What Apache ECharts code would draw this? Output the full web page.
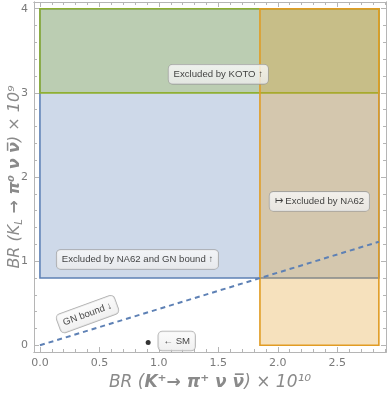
<!DOCTYPE html>
<html>
<head>
<meta charset="utf-8">
<script src="https://cdn.jsdelivr.net/npm/echarts@6/dist/echarts.min.js"></script>
<style>
  html, body { margin: 0; padding: 0; background: #fff; }
  #main { width: 388px; height: 393px; }
</style>
</head>
<body>
<div id="main"></div>
<script>
// axis ticks
var xTicks = [0, 0.5, 1, 1.5, 2, 2.5];
var xMinor = [0.1, 0.2, 0.3, 0.4, 0.6, 0.7, 0.8, 0.9, 1.1, 1.2, 1.3, 1.4, 1.6, 1.7, 1.8, 1.9, 2.1, 2.2, 2.3, 2.4, 2.6, 2.7, 2.8, 2.9];
var yTicks = [0, 1, 2, 3, 4];
var yMinor = [0.2, 0.4, 0.6, 0.8, 1.2, 1.4, 1.6, 1.8, 2.2, 2.4, 2.6, 2.8, 3.2, 3.4, 3.6, 3.8];

// excluded regions: [x0, y0, x1, y1]
var boxNames = ['NA62 and GN bound', 'KOTO', 'NA62'];
var boxCorners = [
  [0, 0.8, 2.85, 4],
  [0, 3, 2.85, 4],
  [1.85, 0, 2.85, 4]
];
var boxColors = ['#5E81B5', '#8FB032', '#E19C24'];

// Grossman-Nir bound line
var gnLine = [[0, 0], [2.85, 1.23]];
// Standard Model point
var smPoint = [[0.91, 0.034]];

// annotation labels
var labelTexts = ['Excluded by KOTO ↑', 'Excluded by NA62 and GN bound ↑', '↦ Excluded by NA62', 'GN bound ↓', '← SM'];
var labelPos = [[1.5, 3.22], [0.82, 1.02], [2.35, 1.71], [0.4, 0.37], [1.15, 0.05]];
var labelRotate = [0, 0, 0, 20, 0];

var axisGray = '#b5b5b5';
var labelGray = '#7a7a7a';

var myChart = echarts.init(document.getElementById('main'));

var series = [];
for (var i = 0; i < boxCorners.length; i++) {
  var b = boxCorners[i];
  series.push({
    name: boxNames[i],
    type: 'line',
    data: [],
    silent: true,
    z: 2 + i,
    markArea: {
      silent: true,
      itemStyle: {
        color: echarts.color.modifyAlpha(boxColors[i], 0.3),
        borderColor: boxColors[i],
        borderWidth: 1.6
      },
      label: { show: false },
      data: [[{ coord: [b[0], b[1]] }, { coord: [b[2], b[3]] }]]
    }
  });
}

series.push({
  name: 'GN bound',
  type: 'line',
  data: gnLine,
  symbol: 'none',
  z: 10,
  lineStyle: { color: '#5E81B5', width: 2, type: [5, 4] }
});

series.push({
  name: 'SM',
  type: 'scatter',
  data: smPoint,
  symbolSize: 5,
  z: 11,
  itemStyle: { color: '#000' }
});

series.push({
  name: 'labels',
  type: 'scatter',
  symbolSize: 0,
  z: 12,
  data: labelPos.map(function (p, i) {
    return {
      value: p,
      label: {
        show: true,
        position: 'inside',
        formatter: labelTexts[i],
        rotate: labelRotate[i],
        fontSize: 9.6,
        fontFamily: 'Liberation Sans',
        color: '#111',
        backgroundColor: {
          type: 'linear', x: 0, y: 0, x2: 0, y2: 1,
          colorStops: [{ offset: 0, color: '#fbfbfb' }, { offset: 1, color: '#ececec' }]
        },
        borderColor: '#9a9a9a',
        borderWidth: 0.8,
        borderRadius: 4,
        padding: [5, 5, 4, 5]
      }
    };
  })
});

function frameAxis(pos, isX, ticks, min, max, showLabel, len) {
  return {
    type: 'value',
    position: pos,
    min: min,
    max: max,
    splitLine: { show: false },
    axisLine: { show: true, onZero: false, lineStyle: { color: axisGray, width: 1 } },
    axisTick: { show: true, inside: true, length: len, customValues: ticks, lineStyle: { color: axisGray } },
    axisLabel: showLabel ? {
      show: true,
      customValues: ticks,
      color: labelGray,
      fontSize: 11,
      fontFamily: 'DejaVu Sans',
      margin: 6,
      formatter: function (v) { return isX ? v.toFixed(1) : String(Math.round(v)); }
    } : { show: false }
  };
}

var xAxes = [
  frameAxis('bottom', true, xTicks, -0.05, 2.91, true, 5),
  frameAxis('bottom', true, xMinor, -0.05, 2.91, false, 3),
  frameAxis('top', true, xTicks, -0.05, 2.91, false, 5),
  frameAxis('top', true, xMinor, -0.05, 2.91, false, 3)
];
var yAxes = [
  frameAxis('left', false, yTicks, -0.08, 4.08, true, 5),
  frameAxis('left', false, yMinor, -0.08, 4.08, false, 3),
  frameAxis('right', false, yTicks, -0.08, 4.08, false, 5),
  frameAxis('right', false, yMinor, -0.08, 4.08, false, 3)
];

xAxes[0].name = '{a|BR (}{b|K⁺→ π⁺ ν ν\u0305}{a|) × 10¹⁰}';
xAxes[0].nameLocation = 'middle';
xAxes[0].nameGap = 22;
xAxes[0].nameMoveOverlap = false;
xAxes[0].nameTextStyle = {
  rich: {
    a: { fontSize: 17, fontStyle: 'italic', color: '#8a8a8a', fontFamily: 'DejaVu Sans' },
    b: { fontSize: 17, fontStyle: 'italic', fontWeight: 'bold', color: '#8a8a8a', fontFamily: 'DejaVu Sans' }
  }
};

yAxes[0].name = '{a|BR (K}{s|L}{b| → π⁰ ν ν\u0305}{a|) × 10⁹}';
yAxes[0].nameLocation = 'middle';
yAxes[0].nameRotate = 90;
yAxes[0].nameGap = 10;
yAxes[0].nameMoveOverlap = false;
yAxes[0].nameTextStyle = {
  rich: {
    a: { fontSize: 16, fontStyle: 'italic', color: '#8a8a8a', fontFamily: 'DejaVu Sans' },
    s: { fontSize: 10, fontStyle: 'italic', color: '#8a8a8a', fontFamily: 'DejaVu Sans', padding: [8, 0, 0, 0] },
    b: { fontSize: 16, fontStyle: 'italic', fontWeight: 'bold', color: '#8a8a8a', fontFamily: 'DejaVu Sans' }
  }
};

series.forEach(function (s) { s.xAxisIndex = 0; s.yAxisIndex = 0; });

var option = {
  animation: false,
  grid: { left: 34, right: 2, top: 2, bottom: 41, containLabel: false, outerBoundsMode: 'none' },
  xAxis: xAxes,
  yAxis: yAxes,
  series: series
};
myChart.setOption(option);

window.onresize = function () { myChart.resize(); };
</script>
</body>
</html>
